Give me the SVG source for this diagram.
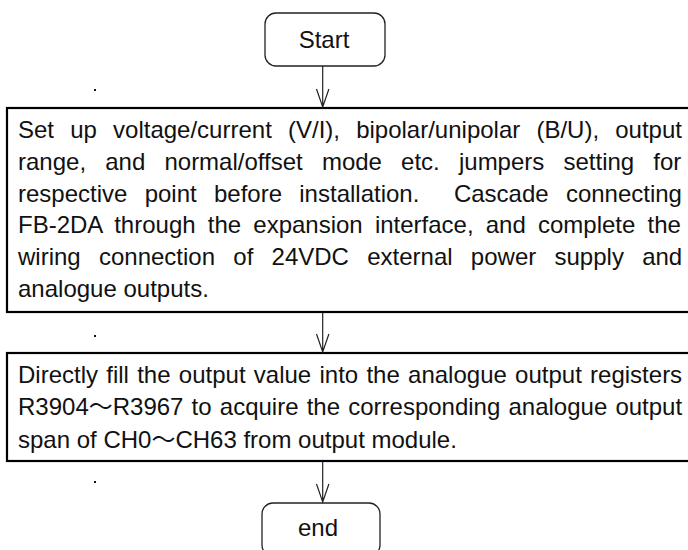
<svg xmlns="http://www.w3.org/2000/svg" width="688" height="550" viewBox="0 0 688 550">
<defs>
<style>
text{font-family:"Liberation Sans","Noto Sans CJK SC",Arial,sans-serif;font-size:24px;fill:#111}
.term{fill:#fff;stroke:#222;stroke-width:1.3}
.proc{fill:#fff;stroke:#000;stroke-width:2.2}
.conn{stroke:#222;stroke-width:1.2;fill:none}
.dot{fill:#111}
</style>
</defs>
<rect width="688" height="550" fill="#fff"/>
<g id="start">
<rect class="term" x="265" y="13" width="120" height="53" rx="11"/>
<text x="324" y="48" text-anchor="middle">Start</text>
</g>
<g id="setup">
<rect class="proc" x="7" y="108" width="690" height="204"/>
<text x="18" y="138" style="word-spacing:9.5px">Set up voltage/current (V/I), bipolar/unipolar (B/U), output</text>
<text x="18" y="170" style="word-spacing:12.5px">range, and normal/offset mode etc. jumpers setting for</text>
<text x="18" y="202" xml:space="preserve" style="word-spacing:10.6px">respective point before installation.  Cascade connecting</text>
<text x="18" y="233" style="word-spacing:5.5px">FB-2DA through the expansion interface, and complete the</text>
<text x="18" y="265" style="word-spacing:11.6px">wiring connection of 24VDC external power supply and</text>
<text x="18" y="297">analogue outputs.</text>
</g>
<g id="fill">
<rect class="proc" x="7" y="353" width="690" height="108"/>
<text x="18" y="383" style="word-spacing:1.6px">Directly fill the output value into the analogue output registers</text>
<text x="18" y="415" style="word-spacing:1.5px">R3904～R3967 to acquire the corresponding analogue output</text>
<text x="18" y="448">span of CH0～CH63 from output module.</text>
</g>
<g id="end">
<rect class="term" x="262" y="503" width="118" height="53" rx="11"/>
<text x="318" y="536" text-anchor="middle">end</text>
</g>
<g id="dots">
<rect class="dot" x="94" y="89" width="2" height="2"/>
<rect class="dot" x="94" y="335" width="2" height="2"/>
<rect class="dot" x="94" y="481" width="2" height="2"/>
</g>
<g id="connectors">
<path class="conn" d="M322.7 66V107M316.5 89L322.7 107L328.9 89"/>
<path class="conn" d="M322.7 313V352M316.5 334L322.7 352L328.9 334"/>
<path class="conn" d="M322.7 462V502M316.5 484L322.7 502L328.9 484"/>
</g>
</svg>
